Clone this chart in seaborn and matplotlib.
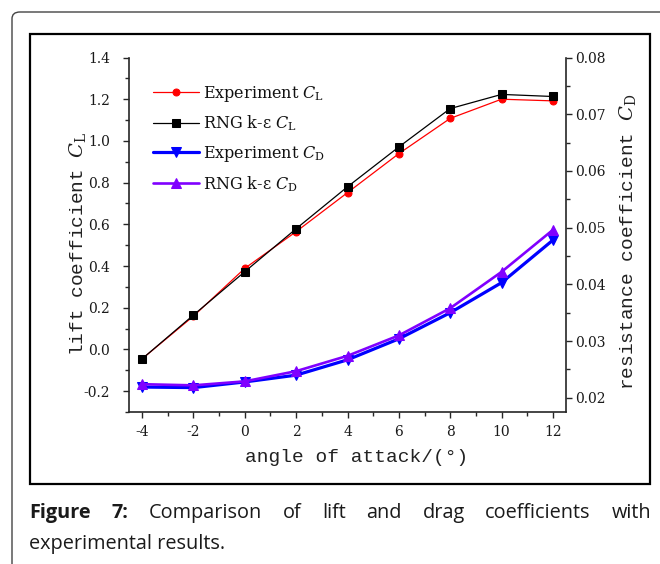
import matplotlib
matplotlib.use("Agg")
import matplotlib.pyplot as plt
import seaborn as sns
from matplotlib.ticker import MultipleLocator, FixedLocator
from matplotlib.patches import Rectangle, FancyBboxPatch

# ---- data ----
angle = [-4, -2, 0, 2, 4, 6, 8, 10, 12]
cl_exp = [-0.045, 0.160, 0.389, 0.565, 0.752, 0.939, 1.108, 1.200, 1.192]
cl_rng = [-0.045, 0.165, 0.373, 0.579, 0.780, 0.971, 1.155, 1.223, 1.213]
cd_exp = [0.0219, 0.0218, 0.0228, 0.0240, 0.0267, 0.0304, 0.0350, 0.0403, 0.0478]
cd_rng = [0.0224, 0.0222, 0.0229, 0.0247, 0.0274, 0.0310, 0.0358, 0.0422, 0.0496]
labels = ["Experiment $C_\\mathrm{L}$", "RNG k-\u03b5 $C_\\mathrm{L}$",
          "Experiment $C_\\mathrm{D}$", "RNG k-\u03b5 $C_\\mathrm{D}$"]
xticks = [-4, -2, 0, 2, 4, 6, 8, 10, 12]
caption1 = ["Figure", "7:", "Comparison", "of", "lift", "and", "drag", "coefficients", "with"]
caption2 = "experimental results."

sns.set_style("ticks")
plt.rcParams["font.family"] = ["DejaVu Serif"]
plt.rcParams["mathtext.fontset"] = "dejavuserif"

W, H = 660, 564
fig = plt.figure(figsize=(W / 100, H / 100), dpi=100)
fig.patch.set_facecolor("white")

def fx(px):
    return px / W

def fy(py):
    return 1 - py / H

left, right, top, bottom = 129.3, 565.7, 57.5, 412.0
ax = fig.add_axes([fx(left), fy(bottom), fx(right) - fx(left), fy(top) - fy(bottom)])
ax2 = ax.twinx()

sns.lineplot(x=angle, y=cl_exp, ax=ax, color="#ff0000", marker="o", markersize=5,
             markeredgecolor="#ff0000", linewidth=0.9, legend=False)
sns.lineplot(x=angle, y=cl_rng, ax=ax, color="black", marker="s", markersize=6,
             markeredgecolor="black", linewidth=0.9, legend=False)
sns.lineplot(x=angle, y=cd_exp, ax=ax2, color="#0000ff", marker="v", markersize=6.5,
             markeredgecolor="#0000ff", linewidth=2.3, legend=False)
sns.lineplot(x=angle, y=cd_rng, ax=ax2, color="#8000ff", marker="^", markersize=6.5,
             markeredgecolor="#8000ff", linewidth=1.9, legend=False)

ax.set_xlim(-4.5, 12.5)
ax.set_ylim(-0.3, 1.4)
ax2.set_ylim(0.0175, 0.08)

ax.xaxis.set_major_locator(FixedLocator(xticks))
ax.set_xticklabels([str(t) for t in xticks])
ax.xaxis.set_minor_locator(MultipleLocator(1))
ax.yaxis.set_minor_locator(MultipleLocator(0.1))
ax2.yaxis.set_minor_locator(MultipleLocator(0.005))
ax.set_yticks([-0.2, 0.0, 0.2, 0.4, 0.6, 0.8, 1.0, 1.2, 1.4])
ax.set_yticklabels(["-0.2", "0.0", "0.2", "0.4", "0.6", "0.8", "1.0", "1.2", "1.4"])
ax2.set_yticks([0.02, 0.03, 0.04, 0.05, 0.06, 0.07, 0.08])
ax2.set_yticklabels(["0.02", "0.03", "0.04", "0.05", "0.06", "0.07", "0.08"])

for a in (ax, ax2):
    a.spines["top"].set_visible(False)
    for s in a.spines.values():
        s.set_linewidth(1.2)
ax.spines["right"].set_visible(False)
ax2.spines["left"].set_visible(False)
ax2.spines["bottom"].set_visible(False)

tick_col = "#1a1a1a"
ax.tick_params(axis="x", which="major", direction="out", length=4.3, width=1.0,
               pad=5, labelsize=10, labelcolor=tick_col)
ax.tick_params(axis="x", which="minor", direction="out", length=2.8, width=1.0)
ax.tick_params(axis="y", which="major", direction="out", length=4.0, width=1.0,
               pad=10, labelsize=10, labelcolor=tick_col)
ax.tick_params(axis="y", which="minor", direction="out", length=2.8, width=1.0)
ax2.tick_params(axis="y", which="major", direction="out", length=4.0, width=1.0,
                pad=3, labelsize=10, labelcolor=tick_col)
ax2.tick_params(axis="y", which="minor", direction="out", length=2.8, width=1.0)

mono = ["Liberation Mono", "DejaVu Sans Mono"]
ax.set_xlabel("angle of attack/(\u00b0)", fontfamily=mono, fontsize=14, color="#222222")
ax.xaxis.set_label_coords((356.5 - left) / (right - left), (bottom - 449) / (bottom - top))
ax.set_ylabel("lift coefficient $C_\\mathrm{L}$", fontfamily=mono, fontsize=14, color="#222222")
ax.yaxis.set_label_coords((88 - left) / (right - left), (bottom - 243.5) / (bottom - top))
ax2.set_ylabel("resistance coefficient $C_\\mathrm{D}$", fontfamily=mono, fontsize=14,
               color="#222222", rotation=90)
ax2.yaxis.set_label_coords((617 - left) / (right - left), (bottom - 241.5) / (bottom - top))

handles = [ax.lines[0], ax.lines[1], ax2.lines[0], ax2.lines[1]]
leg = ax.legend(handles, labels, loc="upper left",
                bbox_to_anchor=(fx(153), fy(83.5)), bbox_transform=fig.transFigure,
                frameon=False, fontsize=11.5, handlelength=2.9, handletextpad=0.2,
                labelspacing=0.64, borderpad=0, borderaxespad=0)
for t in leg.get_texts():
    t.set_color("#111111")

# frames
fig.patches.append(FancyBboxPatch((fx(12), fy(620)), fx(720) - fx(12), fy(12) - fy(620),
                                  boxstyle="round,pad=0,rounding_size=0.012",
                                  transform=fig.transFigure, fill=False,
                                  edgecolor="#444444", linewidth=1.0))
fig.patches.append(Rectangle((fx(30), fy(484)), fx(650) - fx(30), fy(34) - fy(484),
                             transform=fig.transFigure, fill=False,
                             edgecolor="black", linewidth=1.6))

# caption, justified first line
cap_font = ["Open Sans", "DejaVu Sans"]
cap_size = 14.3
renderer = fig.canvas.get_renderer()
texts = []
for i, w in enumerate(caption1):
    t = fig.text(0, fy(518), w, fontfamily=cap_font, fontsize=cap_size,
                 fontweight="bold" if i < 2 else "normal", color="#1a1a1a",
                 ha="left", va="baseline")
    texts.append(t)
widths = [t.get_window_extent(renderer).width for t in texts]
gap = (622 - sum(widths)) / (len(widths) - 1)
xpos = 29.0
for t, wdt in zip(texts, widths):
    t.set_x(fx(xpos))
    xpos += wdt + gap
fig.text(fx(29), fy(549), caption2, fontfamily=cap_font, fontsize=cap_size,
         color="#1a1a1a", ha="left", va="baseline")

fig.savefig("out.png", dpi=100)
